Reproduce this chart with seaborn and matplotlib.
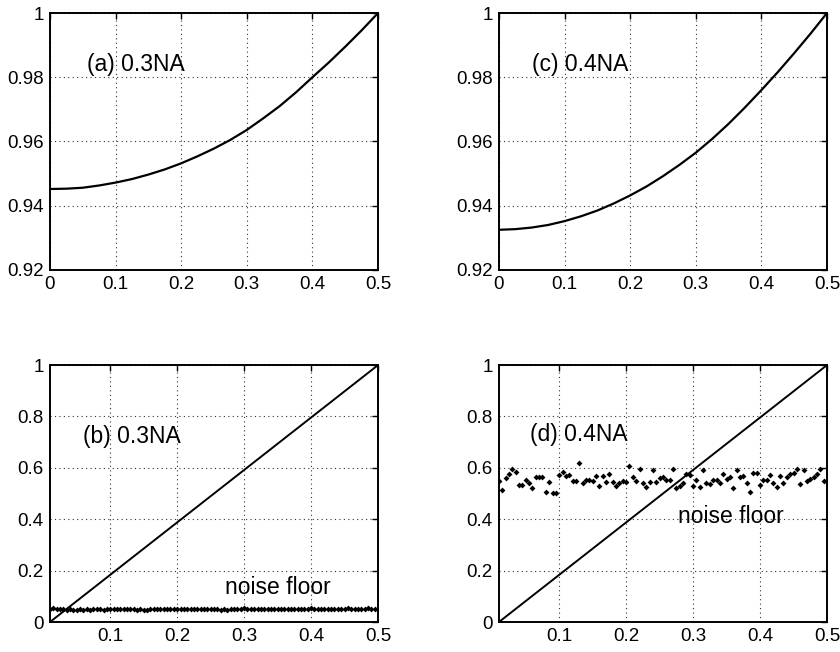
import numpy as np
import pandas as pd
import matplotlib
matplotlib.use("Agg")
import matplotlib.pyplot as plt
import seaborn as sns

# ---------------- data ----------------
curve_x = [0.0, 0.025, 0.05, 0.075, 0.1, 0.125, 0.15, 0.175, 0.2, 0.225, 0.25,
           0.275, 0.3, 0.325, 0.35, 0.375, 0.4, 0.425, 0.45, 0.475, 0.5]
curve_a = [0.9452, 0.9453, 0.9456, 0.9463, 0.9472, 0.9483, 0.9497, 0.9513, 0.9532,
           0.9554, 0.9578, 0.9605, 0.9636, 0.9672, 0.9710, 0.9753, 0.9800, 0.9846,
           0.9895, 0.9946, 1.0]
curve_c = [0.9325, 0.9327, 0.9332, 0.9340, 0.9352, 0.9367, 0.9385, 0.9407, 0.9432,
           0.9460, 0.9492, 0.9527, 0.9565, 0.9608, 0.9655, 0.9706, 0.9760, 0.9816,
           0.9875, 0.9936, 1.0]

diag_x = [0.01, 0.5]
diag_y = [0.0, 1.0]

noise_x = np.round(np.arange(0.01, 0.5001, 0.005), 3)

noise_b = [0.052, 0.053, 0.051, 0.050, 0.049, 0.048, 0.049, 0.047, 0.048, 0.049,
           0.048, 0.049, 0.048, 0.049, 0.050, 0.049, 0.048, 0.049, 0.050, 0.049,
           0.050, 0.050, 0.049, 0.050, 0.050, 0.049, 0.048, 0.049, 0.047, 0.048,
           0.049, 0.050, 0.049, 0.050, 0.050, 0.051, 0.050, 0.049, 0.050, 0.050,
           0.049, 0.050, 0.050, 0.050, 0.051, 0.050, 0.049, 0.050, 0.049, 0.050,
           0.049, 0.048, 0.049, 0.048, 0.049, 0.050, 0.050, 0.051, 0.054, 0.051,
           0.050, 0.051, 0.050, 0.050, 0.050, 0.049, 0.050, 0.050, 0.049, 0.050,
           0.050, 0.051, 0.050, 0.051, 0.050, 0.051, 0.052, 0.051, 0.053, 0.051,
           0.051, 0.050, 0.050, 0.051, 0.050, 0.051, 0.052, 0.051, 0.052, 0.054,
           0.052, 0.051, 0.050, 0.051, 0.052, 0.053, 0.051, 0.052, 0.052]

noise_d = [0.550, 0.515, 0.561, 0.578, 0.597, 0.584, 0.532, 0.532, 0.554, 0.540,
           0.522, 0.565, 0.565, 0.565, 0.507, 0.546, 0.502, 0.501, 0.574, 0.583,
           0.570, 0.574, 0.550, 0.549, 0.620, 0.542, 0.552, 0.554, 0.548, 0.570,
           0.528, 0.570, 0.546, 0.578, 0.544, 0.531, 0.541, 0.548, 0.545, 0.607,
           0.565, 0.548, 0.597, 0.541, 0.527, 0.544, 0.591, 0.544, 0.561, 0.565,
           0.554, 0.554, 0.597, 0.522, 0.528, 0.541, 0.576, 0.574, 0.528, 0.554,
           0.524, 0.593, 0.541, 0.539, 0.554, 0.552, 0.541, 0.576, 0.557, 0.565,
           0.522, 0.591, 0.565, 0.567, 0.541, 0.508, 0.580, 0.580, 0.535, 0.554,
           0.554, 0.574, 0.541, 0.524, 0.567, 0.541, 0.565, 0.576, 0.580, 0.597,
           0.539, 0.590, 0.548, 0.557, 0.565, 0.578, 0.597, 0.548, 0.548]

top_xticks = [0, 0.1, 0.2, 0.3, 0.4, 0.5]
top_xlabels = ["0", "0.1", "0.2", "0.3", "0.4", "0.5"]
top_yticks = [0.92, 0.94, 0.96, 0.98, 1.0]
top_ylabels = ["0.92", "0.94", "0.96", "0.98", "1"]
bot_xticks = [0.1, 0.2, 0.3, 0.4, 0.5]
bot_xlabels = ["0.1", "0.2", "0.3", "0.4", "0.5"]
bot_yticks = [0, 0.2, 0.4, 0.6, 0.8, 1.0]
bot_ylabels = ["0", "0.2", "0.4", "0.6", "0.8", "1"]

labels = ["(a) 0.3NA", "(b) 0.3NA", "(c) 0.4NA", "(d) 0.4NA"]

# ---------------- figure ----------------
sns.set_theme(style="white")
plt.rcParams["font.family"] = ["Liberation Sans", "DejaVu Sans"]

fig = plt.figure(figsize=(8.4, 6.52), dpi=100)
W = 0.3905
H = 0.394
ax_a = fig.add_axes([0.0595, 0.586, W, H])
ax_c = fig.add_axes([0.594, 0.586, W, H])
ax_b = fig.add_axes([0.0595, 0.046, W, H])
ax_d = fig.add_axes([0.594, 0.046, W, H])


def style(ax, xlim, ylim, xt, xl, yt, yl):
    ax.set_xlim(*xlim)
    ax.set_ylim(*ylim)
    ax.set_xticks(xt)
    ax.set_xticklabels(xl)
    ax.set_yticks(yt)
    ax.set_yticklabels(yl)
    ax.grid(True, linestyle=(0, (1, 3)), color="#333333", linewidth=0.8)
    ax.tick_params(direction="in", top=True, right=True, length=4, width=1.0,
                   labelsize=13.5, colors="black", pad=4.5)
    for s in ax.spines.values():
        s.set_color("black")
        s.set_linewidth(1.4)
        s.set_visible(True)
    ax.set_xlabel("")
    ax.set_ylabel("")
    ax.set_facecolor("white")


top_df_a = pd.DataFrame({"x": curve_x, "y": curve_a})
top_df_c = pd.DataFrame({"x": curve_x, "y": curve_c})
diag_df = pd.DataFrame({"x": diag_x, "y": diag_y})
nb = pd.DataFrame({"x": noise_x, "y": noise_b})
nd = pd.DataFrame({"x": noise_x, "y": noise_d})

sns.lineplot(data=top_df_a, x="x", y="y", ax=ax_a, color="black", linewidth=1.6)
sns.lineplot(data=top_df_c, x="x", y="y", ax=ax_c, color="black", linewidth=1.6)

for ax, nz in ((ax_b, nb), (ax_d, nd)):
    sns.lineplot(data=diag_df, x="x", y="y", ax=ax, color="black", linewidth=1.4)
    sns.scatterplot(data=nz, x="x", y="y", ax=ax, color="black", marker="D",
                    s=9, linewidth=0, zorder=3)

style(ax_a, (0, 0.5), (0.92, 1.0), top_xticks, top_xlabels, top_yticks, top_ylabels)
style(ax_c, (0, 0.5), (0.92, 1.0), top_xticks, top_xlabels, top_yticks, top_ylabels)
style(ax_b, (0.01, 0.5), (0, 1), bot_xticks, bot_xlabels, bot_yticks, bot_ylabels)
style(ax_d, (0.01, 0.5), (0, 1), bot_xticks, bot_xlabels, bot_yticks, bot_ylabels)

tk = dict(fontsize=16.5, color="black", va="center", ha="left")
ax_a.text(0.056, 0.984, labels[0], **tk)
ax_c.text(0.050, 0.984, labels[2], **tk)
ax_b.text(0.059, 0.724, labels[1], **tk)
ax_d.text(0.056, 0.730, labels[3], **tk)
ax_b.text(0.271, 0.136, "noise floor", **tk)
ax_d.text(0.277, 0.412, "noise floor", **tk)

fig.savefig("out.png", dpi=100, facecolor="white")
